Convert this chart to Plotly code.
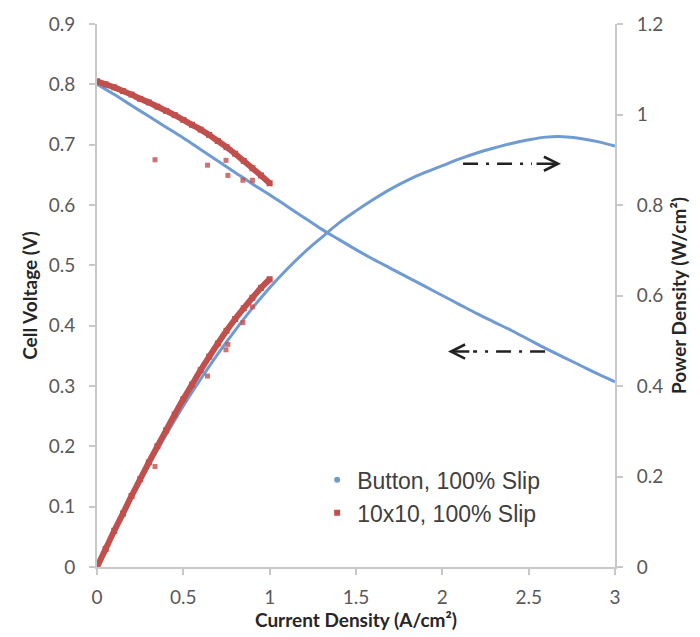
import plotly.graph_objects as go

# ---------------- data ----------------
button_i = [0.0, 0.1, 0.2, 0.3, 0.4, 0.5, 0.6, 0.7, 0.8, 0.9, 1.0,
            1.1, 1.2, 1.3, 1.4, 1.5, 1.6, 1.7, 1.8, 1.9, 2.0,
            2.1, 2.2, 2.3, 2.4, 2.5, 2.6, 2.7, 2.8, 2.9, 3.0]
button_v = [0.800, 0.783, 0.765, 0.747, 0.729, 0.711, 0.692, 0.673, 0.654, 0.635, 0.617,
            0.598, 0.579, 0.560, 0.543, 0.526, 0.510, 0.495, 0.480, 0.465, 0.450,
            0.435, 0.420, 0.406, 0.392, 0.377, 0.362, 0.348, 0.334, 0.320, 0.307]
button_p = [0.000, 0.078, 0.153, 0.224, 0.292, 0.356, 0.415, 0.471, 0.523, 0.572, 0.617,
            0.658, 0.695, 0.728, 0.760, 0.787, 0.812, 0.835, 0.855, 0.872, 0.887,
            0.902, 0.915, 0.926, 0.936, 0.944, 0.950, 0.951, 0.947, 0.940, 0.930]

cell_i = [0.00, 0.05, 0.10, 0.15, 0.20, 0.25, 0.30, 0.35, 0.40, 0.45, 0.50,
          0.55, 0.60, 0.65, 0.70, 0.75, 0.80, 0.85, 0.90, 0.95, 1.00]
cell_v = [0.805, 0.800, 0.795, 0.789, 0.783, 0.776, 0.770, 0.763, 0.756, 0.749, 0.741,
          0.733, 0.725, 0.716, 0.706, 0.696, 0.685, 0.673, 0.661, 0.649, 0.636]
cell_p = [0.000, 0.040, 0.080, 0.118, 0.157, 0.194, 0.231, 0.267, 0.302, 0.337, 0.371,
          0.403, 0.435, 0.465, 0.494, 0.522, 0.548, 0.572, 0.595, 0.617, 0.636]

# scattered outlier points of the 10x10 cell
out_i = [0.336, 0.640, 0.747, 0.758, 0.845, 0.900]
out_v = [0.675, 0.666, 0.674, 0.649, 0.641, 0.641]
out_p = [0.222, 0.422, 0.480, 0.492, 0.540, 0.575]

legend_names = ["Button, 100% Slip", "10x10, 100% Slip"]

BLUE = "#6f9bd2"
RED = "#c0504d"

fig = go.Figure()

# Button cell: voltage (left) and power (right)
fig.add_trace(go.Scatter(x=button_i, y=button_v, mode="lines", line=dict(color=BLUE, width=3, shape="spline"),
                         showlegend=False, yaxis="y"))
fig.add_trace(go.Scatter(x=button_i, y=button_p, mode="lines", line=dict(color=BLUE, width=3, shape="spline"),
                         showlegend=False, yaxis="y2"))

# 10x10 cell
fig.add_trace(go.Scatter(x=cell_i, y=cell_v, mode="lines+markers", line=dict(color=RED, width=6, shape="spline"),
                         marker=dict(symbol="square", size=6, color=RED), showlegend=False, yaxis="y"))
fig.add_trace(go.Scatter(x=cell_i, y=cell_p, mode="lines+markers", line=dict(color=RED, width=6, shape="spline"),
                         marker=dict(symbol="square", size=6, color=RED), showlegend=False, yaxis="y2"))
fig.add_trace(go.Scatter(x=out_i, y=out_v, mode="markers", marker=dict(symbol="square", size=5, color=RED, opacity=0.8),
                         showlegend=False, yaxis="y"))
fig.add_trace(go.Scatter(x=out_i, y=out_p, mode="markers", marker=dict(symbol="square", size=5, color=RED, opacity=0.8),
                         showlegend=False, yaxis="y2"))

# legend entries
fig.add_trace(go.Scatter(x=[None], y=[None], mode="markers", name=legend_names[0],
                         marker=dict(symbol="circle", size=6, color=BLUE)))
fig.add_trace(go.Scatter(x=[None], y=[None], mode="markers", name=legend_names[1],
                         marker=dict(symbol="square", size=6, color=RED)))

# dash-dot arrows
DASH = "15px,8px,3px,8px"
fig.add_shape(type="line", xref="x", yref="y", x0=2.120, x1=2.519, y0=0.6685, y1=0.6685,
              line=dict(color="#222222", width=2.5, dash=DASH))
fig.add_annotation(x=2.687, y=0.6685, ax=2.537, ay=0.6685, xref="x", yref="y", axref="x", ayref="y",
                   text="", showarrow=True, arrowhead=5, arrowsize=1.1, arrowwidth=2.5, arrowcolor="#222222")
fig.add_shape(type="line", xref="x", yref="y", x0=2.595, x1=2.178, y0=0.357, y1=0.357,
              line=dict(color="#222222", width=2.5, dash=DASH))
fig.add_annotation(x=2.033, y=0.357, ax=2.165, ay=0.357, xref="x", yref="y", axref="x", ayref="y",
                   text="", showarrow=True, arrowhead=5, arrowsize=1.1, arrowwidth=2.5, arrowcolor="#222222")

TICKFONT = dict(family="Lato", size=19, color="#595959")
TITLEFONT = dict(family="Lato", size=19, color="#262626", weight="bold")
AXCOL = "#c8c8c8"

fig.update_layout(
    width=700, height=637,
    margin=dict(l=97, r=85, t=20, b=65),
    paper_bgcolor="white", plot_bgcolor="white",
    xaxis=dict(range=[0, 3], dtick=0.5, tick0=0, showgrid=False, zeroline=False,
               showline=True, linecolor=AXCOL, linewidth=2, ticks="outside", ticklen=6, tickwidth=1.5,
               tickcolor=AXCOL, tickfont=TICKFONT, ticklabelstandoff=6,
               title=dict(text="Current Density (A/cm²)", font=TITLEFONT, standoff=4)),
    yaxis=dict(range=[0, 0.9], dtick=0.1, tick0=0, showgrid=False, zeroline=False,
               showline=True, linecolor=AXCOL, linewidth=2, ticks="outside", ticklen=6, tickwidth=1.5,
               tickcolor=AXCOL, tickfont=TICKFONT, ticklabelstandoff=10,
               title=dict(text="Cell Voltage (V)", font=TITLEFONT, standoff=6)),
    yaxis2=dict(range=[0, 1.2], dtick=0.2, tick0=0, overlaying="y", side="right", showgrid=False,
                zeroline=False, showline=True, linecolor=AXCOL, linewidth=2, ticks="outside", ticklen=6,
                tickwidth=1.5, tickcolor=AXCOL, tickfont=TICKFONT, ticklabelstandoff=10,
                title=dict(text="Power Density (W/cm²)", font=TITLEFONT, standoff=10)),
    legend=dict(x=0.425, y=0.2, xanchor="left", yanchor="top", bgcolor="rgba(0,0,0,0)",
                font=dict(family="Liberation Sans", size=23, color="#404040"), itemwidth=30,
                tracegroupgap=0),
    showlegend=True,
)

fig.write_html("out.html")
